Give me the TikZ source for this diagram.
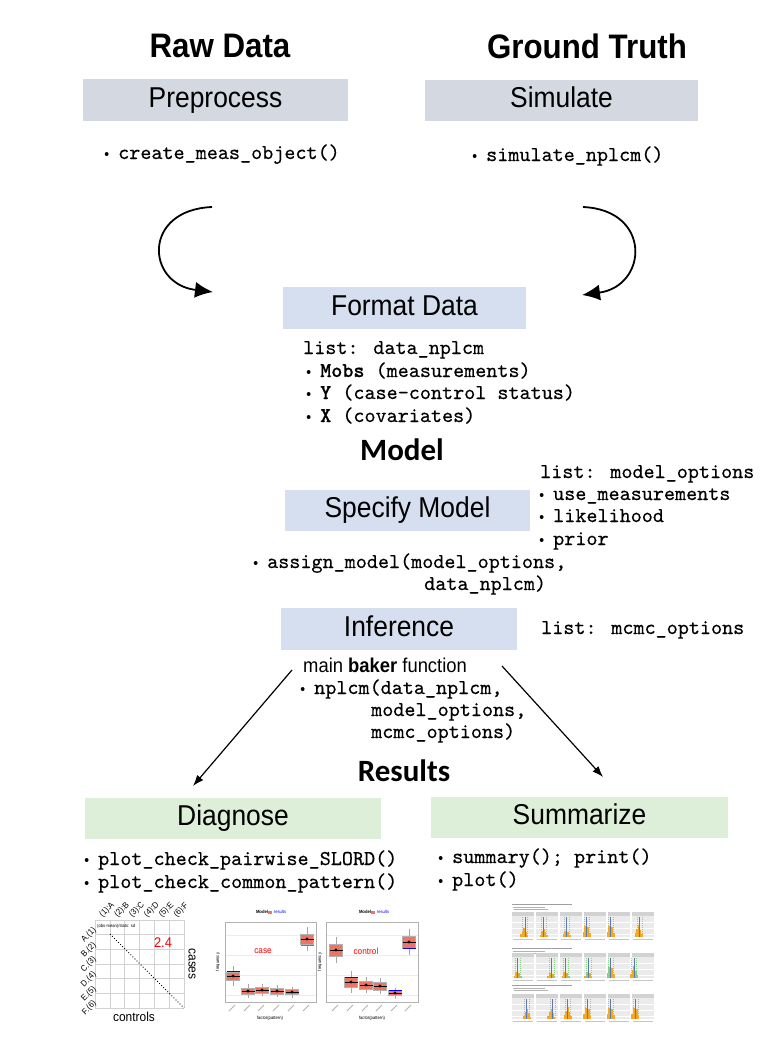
\documentclass[tikz,border=0pt]{standalone}
\usepackage{fontspec}
\setmainfont{Liberation Sans}
\newfontfamily\hv[FakeStretch=0.92]{Liberation Sans}
\newfontfamily\calfont{Carlito}
\newfontfamily\mono{lmmono10-regular.otf}[FakeBold=0.35, BoldFont=lmmonolt10-bold.otf, BoldFeatures={FakeBold=0.6}]
\usetikzlibrary{arrows.meta}
\definecolor{topbox}{HTML}{D3D8E1}
\definecolor{midbox}{HTML}{D6DFEF}
\definecolor{botbox}{HTML}{DDEED9}
\definecolor{boxred}{HTML}{EE7464}
\definecolor{hbg}{HTML}{EBEBEB}
\definecolor{hstrip}{HTML}{D2D2D2}
\definecolor{horange}{HTML}{F5A623}
\definecolor{hblue}{HTML}{5A7BA8}
\definecolor{hgreen}{HTML}{8CD38C}
\newcommand\bul{\llap{{\hv\fontsize{15}{15}\selectfont\textbullet}\hspace{9pt}}}
\newcommand\hpan[5]{%
  \begin{scope}[shift={(#1,#2)}]
    \fill[hbg] (0,0) rectangle (22,25);
    \fill[hstrip] (0,0) rectangle (22,4);
    \foreach \yy in {10,16,22} {\draw[white, line width=0.3pt] (0,\yy) -- (22,\yy);}
    \foreach \k/\f in {-2/0.3,-1/0.7,0/1,1/0.6,2/0.25} {
      \fill[horange] ({22*#4+\k*1.6-0.8},25) rectangle ++(1.6,{-#5*20*\f});
    }
    \draw[hgreen, line width=0.5pt, dash pattern=on 1pt off 1pt] ({22*#3-2.5},5) -- ({22*#3-2.5},25);
    \draw[hgreen, line width=0.5pt, dash pattern=on 1pt off 1pt] ({22*#3+2.5},5) -- ({22*#3+2.5},25);
    \draw[hblue, line width=0.7pt] ({22*#3},5) -- ({22*#3},25);
    \draw[gray!45, line width=0.6pt] (1,27.5) -- (21,27.5);
  \end{scope}}
\newcommand\bxp[4]{%
  \draw[gray!70, line width=0.4pt] (#1,{#2-#3-#4}) -- (#1,{#2+#3+#4});
  \filldraw[fill=boxred, draw=gray!60, line width=0.4pt] ({#1-6.5},{#2-#3}) rectangle ({#1+6.5},{#2+#3});
  \draw[line width=0.6pt] ({#1-6.5},#2) -- ({#1+6.5},#2);
  \fill (#1,#2) circle (1.6);
  \draw[gray!60, line width=0.8pt] ({#1+2},1005) -- ({#1-4},1011);
}
\tikzset{
  head/.style={font=\hv\bfseries\fontsize{34}{34}\selectfont, inner sep=0pt},
  sect/.style={font=\calfont\bfseries\fontsize{31}{31}\selectfont, inner sep=0pt},
  boxlbl/.style={font=\hv\fontsize{28.7}{28.7}\selectfont, inner sep=0pt, text height=20.5pt, text depth=6pt},
  topb/.style={boxlbl, fill=topbox},
  midb/.style={boxlbl, fill=midbox},
  botb/.style={boxlbl, fill=botbox},
  code/.style={font=\mono\fontsize{21.1}{21.1}\selectfont, anchor=base west, inner sep=0pt},
  sans/.style={font=\hv\fontsize{20}{20}\selectfont, inner sep=0pt},
  carr/.style={line width=1.8pt, -{Latex[length=18pt,width=16pt]}},
  sarr/.style={line width=1.2pt, -{Latex[length=11pt,width=8pt]}},
  gridc/.style={gray!35, line width=0.6pt},
  tinyt/.style={font=\hv\fontsize{8.5}{8.5}\selectfont, inner sep=0pt},
  micro/.style={font=\hv\fontsize{4.5}{4.5}\selectfont, inner sep=0pt},
}
\begin{document}
\begin{tikzpicture}[x=1pt,y=-1pt]
\useasboundingbox (0,0) rectangle (781,1044);
\fill[white] (0,0) rectangle (781,1044);

% headings
\node[head] (raw) at (220,46) {Raw Data};
\node[head] (gt) at (587,46) {Ground Truth};

% top boxes
\node[topb, minimum width=265pt, minimum height=42pt] (pre) at (215.5,100) {Preprocess};
\node[topb, minimum width=273pt, minimum height=41pt] (sim) at (561.5,100.5) {Simulate};

\node[code] (cmo) at (118,159) {\bul create\_meas\_object()};
\node[code] (snp) at (486,161) {\bul simulate\_nplcm()};

% curved arrows
\coordinate (c1s) at (212,207);
\coordinate (c1e) at (213,292);
\coordinate (c2s) at (583,207);
\coordinate (c2e) at (582,295);
\draw[carr] (c1s) .. controls (142,210) and (146,284) .. (c1e);
\draw[carr] (c2s) .. controls (652,210) and (648,286) .. (c2e);

% format data
\node[midb, minimum width=243pt, minimum height=42pt] (fmt) at (404.5,308) {Format Data};
\node[code] (dl0) at (303,354) {list: data\_nplcm};
\node[code] (dl1) at (320,377) {\bul\textbf{Mobs} (measurements)};
\node[code] (dl2) at (320,399) {\bul\textbf{Y} (case-control status)};
\node[code] (dl3) at (320,422) {\bul\textbf{X} (covariates)};

% model
\node[sect] (model) at (402,450) {Model};
\node[code] (mo0) at (540,478) {list: model\_options};
\node[code] (mo1) at (553,500) {\bul use\_measurements};
\node[code] (mo2) at (553,522) {\bul likelihood};
\node[code] (mo3) at (553,545) {\bul prior};
\node[midb, minimum width=245pt, minimum height=41pt] (spec) at (407.5,510.5) {Specify Model};
\node[code] (am1) at (267,568) {\bul assign\_model(model\_options,};
\node[code] (am2) at (424,590) {data\_nplcm)};

% inference
\node[midb, minimum width=236pt, minimum height=42pt] (inf) at (399,629) {Inference};
\node[code] (mc) at (541,634) {list: mcmc\_options};
\node[sans, anchor=base west] (mbf) at (303,672) {main \textbf{baker} function};
\node[code] (np1) at (314,694) {\bul nplcm(data\_nplcm,};
\node[code] (np2) at (371,716) {model\_options,};
\node[code] (np3) at (371,738) {mcmc\_options)};

% arrows to results
\coordinate (a1s) at (292,670);
\coordinate (a1e) at (193,786);
\coordinate (a2s) at (502,666);
\coordinate (a2e) at (603,777);
\draw[sarr] (a1s) -- (a1e);
\draw[sarr] (a2s) -- (a2e);

\node[sect] (res) at (404,771) {Results};

% results boxes
\node[botb, minimum width=296pt, minimum height=41pt] (diag) at (233,818.5) {Diagnose};
\node[botb, minimum width=297pt, minimum height=41pt] (summ) at (579.5,817.5) {Summarize};
\node[code] (dg1) at (98,865) {\bul plot\_check\_pairwise\_SLORD()};
\node[code] (dg2) at (98,888) {\bul plot\_check\_common\_pattern()};
\node[code] (sm1) at (452,863) {\bul summary(); print()};
\node[code] (sm2) at (452,886) {\bul plot()};

% ---- thumbnail 1: pairwise matrix
\foreach \i in {0,...,6} {
  \draw[gridc] ({95+\i*14.83},920) -- ({95+\i*14.83},1008);
  \draw[gridc] (95,{920+\i*14.67}) -- (184,{920+\i*14.67});
}
\draw[dotted, line width=0.9pt] (110,934) -- (184,1008);
\foreach \l [count=\i from 0] in {{(1):A},{(2):B},{(3):C},{(4):D},{(5):E},{(6):F}} {
  \node[tinyt, rotate=45, anchor=west] at ({101+\i*14.83},916) {\l};
}
\foreach \l [count=\i from 0] in {{A.(1)},{B.(2)},{C.(3)},{D.(4)},{E.(5)},{F.(6)}} {
  \node[tinyt, rotate=45, anchor=east] at (95,{929+\i*14.67}) {\l};
}
\node[micro, anchor=west] (obs) at (97,926.5) {(obs-mean)/stats: sd};
\node[font=\hv\fontsize{14}{14}\selectfont, text=red, inner sep=0pt] (v24) at (163,943) {2.4};
\node[font=\hv\fontsize{13}{13}\selectfont, rotate=-90, inner sep=0pt] (cases) at (192,964) {cases};
\node[font=\hv\fontsize{13}{13}\selectfont, inner sep=0pt] (ctrls) at (134,1017) {controls};

% ---- thumbnail 2: boxplots
\foreach \px/\pw in {225/91,326/92} {
  \foreach \yy in {935,955,975,995} {\draw[gray!15, line width=0.4pt] (\px,\yy) -- ({\px+\pw},\yy);}
  \draw[gray!60, line width=0.5pt] (\px,922) rectangle ({\px+\pw},1002);
}
\bxp{233}{976}{4}{6}
\bxp{248}{991}{3}{4}
\bxp{262}{990}{3}{3}
\bxp{277}{991}{3}{3}
\bxp{292}{992}{2.5}{3}
\bxp{307}{939}{5}{7}
\bxp{336}{950}{6}{7}
\bxp{351}{982}{5}{6}
\bxp{366}{985}{4}{4}
\bxp{380}{986}{4}{4}
\bxp{395}{993}{2.5}{3}
\bxp{409}{942}{6}{7}
\draw[blue, line width=0.9pt] (226.5,971.5) -- (239.5,971.5);
\draw[blue!60, line width=0.9pt] (300.5,945) -- (313.5,945);
\draw[blue, line width=0.9pt] (344.5,977) -- (357.5,977);
\draw[blue, line width=0.9pt] (388.5,990.5) -- (401.5,990.5);
\draw[blue, line width=0.9pt] (402.5,948) -- (415.5,948);
\node[micro, font=\hv\bfseries\fontsize{4.5}{4.5}\selectfont] (lg1) at (262,912) {Model};
\fill[boxred] (268,910.5) rectangle (271.5,913.5);
\node[micro, text=blue] (lr1) at (280,912) {results};
\node[micro, font=\hv\bfseries\fontsize{4.5}{4.5}\selectfont] (lg2) at (365,912) {Model};
\fill[boxred] (371,910.5) rectangle (374.5,913.5);
\node[micro, text=blue] (lr2) at (383,912) {results};
\node[font=\hv\fontsize{9}{9}\selectfont, text=red, inner sep=0pt] (case) at (263,951) {case};
\node[font=\hv\fontsize{9}{9}\selectfont, text=red, inner sep=0pt] (control) at (366,951) {control};
\node[micro, rotate=90] (fq1) at (218,962) {frequency};
\node[micro, rotate=90] (fq2) at (320,962) {frequency};
\node[micro] (fp1) at (270,1018) {factor(pattern)};
\node[micro] (fp2) at (372,1018) {factor(pattern)};

% ---- thumbnail 3: posterior histograms
\foreach \ty in {904,948,985} {
  \draw[gray!75, line width=0.9pt] (512,\ty) -- (572,\ty);
  \draw[gray!60, line width=0.6pt] (513,{\ty+3}) -- (545,{\ty+3});
  \draw[gray!60, line width=0.6pt] (514,{\ty+5.5}) -- (548,{\ty+5.5});
}
\hpan{512}{912}{0.6}{0.55}{0.45}
\hpan{536}{912}{0.35}{0.35}{0.4}
\hpan{560}{912}{0.3}{0.3}{0.45}
\hpan{584}{912}{0.12}{0.12}{0.8}
\hpan{608}{912}{0.12}{0.12}{0.8}
\hpan{632}{912}{0.35}{0.3}{0.6}
\hpan{512}{953}{0.25}{0.25}{0.4}
\hpan{536}{953}{0.7}{0.7}{0.35}
\hpan{560}{953}{0.25}{0.25}{0.4}
\hpan{584}{953}{0.2}{0.2}{0.4}
\hpan{608}{953}{0.12}{0.12}{0.8}
\hpan{632}{953}{0.1}{0.1}{0.6}
\hpan{512}{994}{0.65}{0.7}{0.5}
\hpan{536}{994}{0.75}{0.7}{0.5}
\hpan{560}{994}{0.35}{0.35}{0.6}
\hpan{584}{994}{0.15}{0.15}{0.8}
\hpan{608}{994}{0.12}{0.12}{0.8}
\hpan{632}{994}{0.15}{0.15}{0.8}
\end{tikzpicture}
\end{document}
